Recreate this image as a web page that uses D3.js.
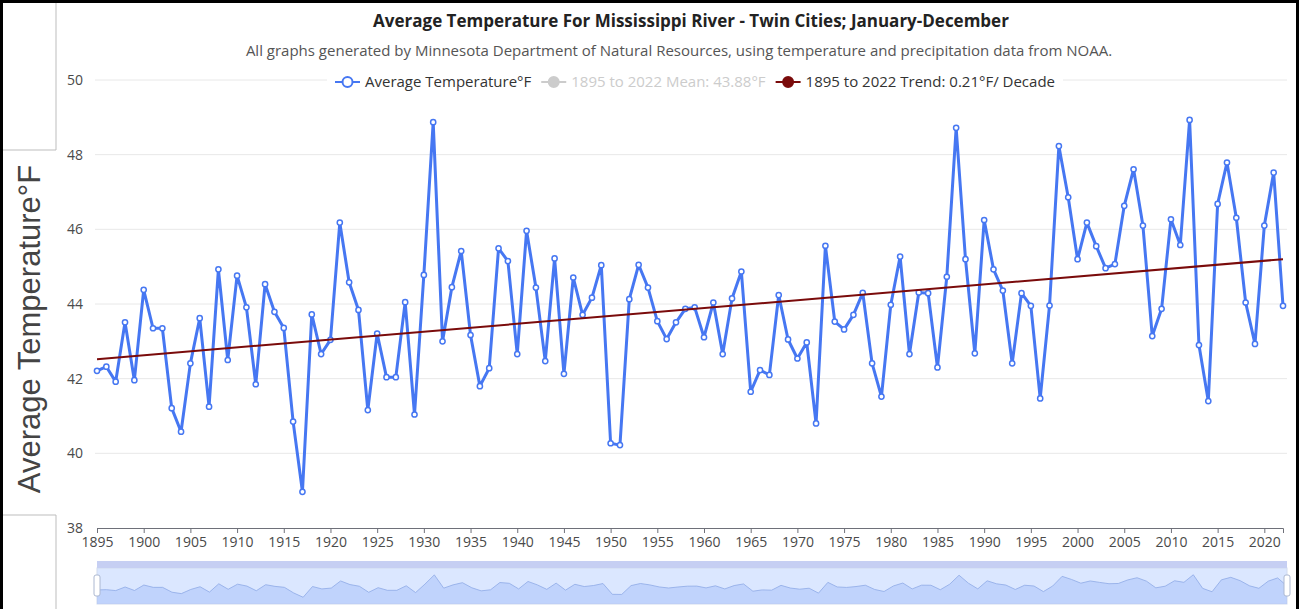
<!DOCTYPE html>
<html>
<head>
<meta charset="utf-8">
<script src="https://cdn.jsdelivr.net/npm/d3@7"></script>
<style>
    html, body { margin: 0; padding: 0; background: #fff; overflow: hidden; }
    svg { display: block; font-family: "Open Sans", "Noto Sans", sans-serif; }
</style>
</head>
<body>
    <svg id="chart"></svg>

<script>
    "use strict"
    const width = 1299;
    const height = 609;

    // ---- data ----
    const firstYear = 1895;
    const lastYear = 2022;
    const years = d3.range(firstYear, lastYear + 1);

    const avgTemp = [
        42.21, 42.32, 41.92, 43.51, 41.96, 44.38, 43.35, 43.35, 41.21, 40.58,   // 1895-1904
        42.41, 43.62, 41.25, 44.93, 42.50, 44.76, 43.91, 41.85, 44.53, 43.79,   // 1905-1914
        43.36, 40.85, 38.97, 43.72, 42.66, 43.04, 46.18, 44.58, 43.84, 41.16,   // 1915-1924
        43.21, 42.04, 42.04, 44.05, 41.04, 44.78, 48.87, 43.00, 44.45, 45.42,   // 1925-1934
        43.17, 41.80, 42.28, 45.49, 45.15, 42.66, 45.96, 44.44, 42.47, 45.22,   // 1935-1944
        42.13, 44.71, 43.71, 44.17, 45.04, 40.27, 40.22, 44.13, 45.05, 44.44,   // 1945-1954
        43.54, 43.06, 43.51, 43.87, 43.91, 43.11, 44.04, 42.66, 44.15, 44.87,   // 1955-1964
        41.65, 42.23, 42.10, 44.24, 43.05, 42.54, 42.97, 40.80, 45.56, 43.53,   // 1965-1974
        43.32, 43.71, 44.30, 42.41, 41.52, 43.98, 45.27, 42.66, 44.31, 44.29,   // 1975-1984
        42.30, 44.73, 48.72, 45.20, 42.68, 46.25, 44.93, 44.36, 42.41, 44.29,   // 1985-1994
        43.95, 41.47, 43.96, 48.23, 46.86, 45.20, 46.18, 45.55, 44.96, 45.07,   // 1995-2004
        46.63, 47.61, 46.10, 43.14, 43.87, 46.27, 45.58, 48.93, 42.90, 41.40,   // 2005-2014
        46.68, 47.79, 46.31, 44.04, 42.93, 46.10, 47.52, 43.95                  // 2015-2022
    ];

    // trend line end points (0.21 F per decade)
    const trendYears = [1895, 2022];
    const trendValues = [42.52, 45.20];

    const xTickYears = [1895, 1900, 1905, 1910, 1915, 1920, 1925, 1930, 1935, 1940, 1945,
        1950, 1955, 1960, 1965, 1970, 1975, 1980, 1985, 1990, 1995, 2000, 2005, 2010, 2015, 2020];
    const yTickValues = [38, 40, 42, 44, 46, 48, 50];

    const titleText = "Average Temperature For Mississippi River - Twin Cities; January-December";
    const subtitleText = "All graphs generated by Minnesota Department of Natural Resources, using temperature and precipitation data from NOAA.";
    const yTitleText = "Average Temperature°F";
    const legendLabels = ["Average Temperature°F", "1895 to 2022 Mean: 43.88°F", "1895 to 2022 Trend: 0.21°F/ Decade"];
    const legendActive = [true, false, true];

    // ---- styles ----
    const lineColor = "#4677f2";
    const trendColor = "#7a0b0b";
    const axisColor = "#6e7079";
    const labelColor = "#4a4a4a";
    const gridColor = "#e8e8e8";
    const legendColors = [lineColor, "#ccc", trendColor];

    const svg = d3.select("#chart")
        .attr("width", width)
        .attr("height", height);

    const x = d3.scaleLinear()
        .domain([firstYear, lastYear])
        .range([97, 1283]);

    const y = d3.scaleLinear()
        .domain([38, 50])
        .range([528, 80]);

    // frame + left title box
    svg.append("path")
        .attr("d", "M56,0V150H3M3,515H56V609")
        .attr("fill", "none")
        .attr("stroke", "#bdbdbd")
        .attr("stroke-width", 1);

    svg.append("rect")
        .attr("x", 1.5).attr("y", 1.5)
        .attr("width", width - 3).attr("height", height + 10)
        .attr("fill", "none")
        .attr("stroke", "#000")
        .attr("stroke-width", 3);

    // y title
    svg.append("text")
        .attr("transform", "translate(40,329) rotate(-90)")
        .attr("text-anchor", "middle")
        .style("font-family", "'Liberation Sans', Arial, sans-serif")
        .style("font-size", "31px")
        .attr("fill", "#444")
        .text(yTitleText);

    // grid lines
    svg.append("g")
        .selectAll("line")
        .data(yTickValues.filter(v => v > 38))
        .join("line")
        .attr("x1", 95).attr("x2", 1287)
        .attr("y1", d => y(d)).attr("y2", d => y(d))
        .attr("stroke", gridColor)
        .attr("stroke-width", 1);

    // y axis labels (no axis line)
    const yAxis = d3.axisLeft(y)
        .tickValues(yTickValues)
        .tickSize(0)
        .tickPadding(0)
        .tickFormat(d3.format("d"));

    const yAxisG = svg.append("g")
        .attr("transform", "translate(83,0)")
        .call(yAxis);
    yAxisG.select(".domain").remove();
    yAxisG.selectAll("text")
        .attr("fill", labelColor)
        .style("font-size", "14px")
        .style("font-family", "'Open Sans', sans-serif");

    // x axis
    const xAxis = d3.axisBottom(x)
        .tickValues(xTickYears)
        .tickSize(5)
        .tickSizeOuter(5)
        .tickPadding(4)
        .tickFormat(d3.format("d"));

    const xAxisG = svg.append("g")
        .attr("transform", `translate(0,${y(38)})`)
        .call(xAxis);
    xAxisG.select(".domain").attr("stroke", axisColor);
    xAxisG.selectAll(".tick line").attr("stroke", axisColor);
    xAxisG.selectAll("text")
        .attr("fill", labelColor)
        .style("font-size", "14px")
        .style("font-family", "'Open Sans', sans-serif");

    // temperature line
    const tempLine = d3.line()
        .x((d, i) => x(years[i]))
        .y(d => y(d));

    svg.append("path")
        .datum(avgTemp)
        .attr("d", tempLine)
        .attr("fill", "none")
        .attr("stroke", lineColor)
        .attr("stroke-width", 3)
        .attr("stroke-linejoin", "round");

    svg.append("g")
        .selectAll("circle")
        .data(avgTemp)
        .join("circle")
        .attr("cx", (d, i) => x(years[i]))
        .attr("cy", d => y(d))
        .attr("r", 2.6)
        .attr("fill", "#fff")
        .attr("stroke", lineColor)
        .attr("stroke-width", 1.5);

    // trend line
    const trendLine = d3.line()
        .x((d, i) => x(trendYears[i]))
        .y(d => y(d));

    svg.append("path")
        .datum(trendValues)
        .attr("d", trendLine)
        .attr("fill", "none")
        .attr("stroke", trendColor)
        .attr("stroke-width", 2);

    // title & subtitle
    svg.append("text")
        .attr("x", 691).attr("y", 27)
        .attr("text-anchor", "middle")
        .style("font-size", "17px")
        .style("font-weight", "bold")
        .attr("fill", "#222")
        .text(titleText);

    svg.append("text")
        .attr("x", 679).attr("y", 56)
        .attr("text-anchor", "middle")
        .style("font-size", "15px")
        .attr("fill", "#555")
        .text(subtitleText);

    // legend
    const legendBg = svg.append("rect").attr("fill", "#fff");
    const legend = svg.append("g");
    const legendY = 82;
    const iconW = 25;
    let cursor = 0;
    legendLabels.forEach((label, i) => {
        const g = legend.append("g");
        g.append("line")
            .attr("x1", 0).attr("x2", iconW)
            .attr("y1", 0).attr("y2", 0)
            .attr("stroke", legendColors[i])
            .attr("stroke-width", 2);
        g.append("circle")
            .attr("cx", iconW / 2).attr("cy", 0)
            .attr("r", 5)
            .attr("fill", i === 0 ? "#fff" : legendColors[i])
            .attr("stroke", legendColors[i])
            .attr("stroke-width", 2);
        const t = g.append("text")
            .attr("x", iconW + 5).attr("y", 0)
            .attr("dy", "0.35em")
            .style("font-size", "15px")
            .attr("fill", legendActive[i] ? "#333" : "#ccc")
            .text(label);
        const w = iconW + 5 + t.node().getComputedTextLength();
        g.attr("transform", `translate(${cursor},${legendY})`);
        cursor += w + 10;
    });
    const legendWidth = cursor - 10;
    const legendX = 695 - legendWidth / 2;
    legend.attr("transform", `translate(${legendX},0)`);
    legendBg.attr("x", legendX - 8).attr("y", legendY - 10)
        .attr("width", legendWidth + 16).attr("height", 20);

    // data zoom slider
    const sliderLeft = 97, sliderRight = 1287;
    const sliderTop = 561, bodyTop = 568, sliderBottom = 604;

    const xs = d3.scaleLinear().domain([firstYear, lastYear]).range([sliderLeft, sliderRight]);
    const ext = d3.extent(avgTemp);
    const pad = (ext[1] - ext[0]) * 0.3;
    const ys = d3.scaleLinear().domain([ext[0] - pad, ext[1] + pad]).range([sliderBottom, bodyTop]);

    const slider = svg.append("g");
    slider.append("rect")
        .attr("x", sliderLeft).attr("y", bodyTop)
        .attr("width", sliderRight - sliderLeft).attr("height", sliderBottom - bodyTop)
        .attr("fill", "rgba(135,175,255,0.3)")
        .attr("stroke", "#d2dbee");

    slider.append("path")
        .datum(avgTemp)
        .attr("d", d3.area()
            .x((d, i) => xs(years[i]))
            .y0(sliderBottom)
            .y1(d => ys(d)))
        .attr("fill", "rgba(143,176,247,0.35)");

    slider.append("path")
        .datum(avgTemp)
        .attr("d", d3.line()
            .x((d, i) => xs(years[i]))
            .y(d => ys(d)))
        .attr("fill", "none")
        .attr("stroke", "#8ea9e6")
        .attr("stroke-width", 0.8);

    slider.append("rect")
        .attr("x", sliderLeft).attr("y", sliderTop)
        .attr("width", sliderRight - sliderLeft).attr("height", bodyTop - sliderTop)
        .attr("fill", "#c6cff3");

    slider.selectAll(".handle")
        .data([sliderLeft, sliderRight])
        .join("rect")
        .attr("class", "handle")
        .attr("x", d => d - 3).attr("y", 575)
        .attr("width", 6).attr("height", 21)
        .attr("rx", 2)
        .attr("fill", "#fff")
        .attr("stroke", "#acb8d1");
</script>
</body>
</html>
